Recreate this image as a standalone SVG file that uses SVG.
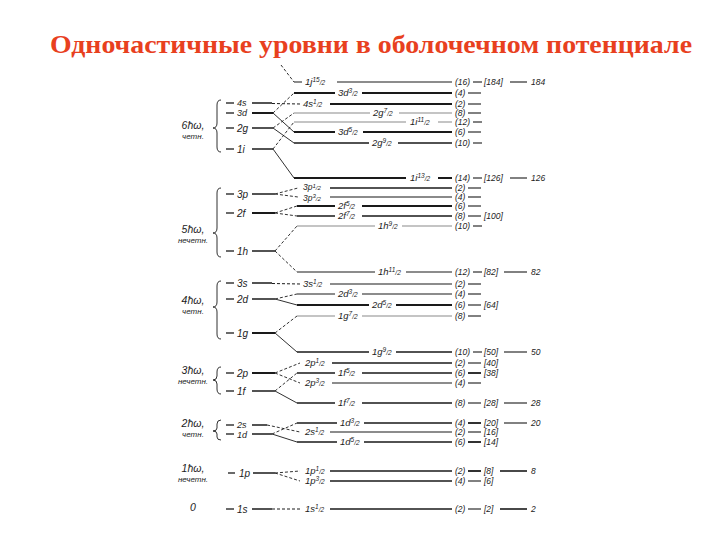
<svg xmlns="http://www.w3.org/2000/svg" width="720" height="540" viewBox="0 0 720 540">
<style>
text{font-family:"Liberation Sans","DejaVu Sans",sans-serif;font-style:italic;fill:#1c1c1c}
.title{font-family:"Liberation Serif","DejaVu Serif",serif;font-style:normal;font-weight:bold;font-size:26px;fill:#e8401e}
.sh{font-size:10.5px}
.pa{font-size:8px}
.nm{font-size:10px}
.ns{font-size:9px}
.lb{font-size:9.5px}
.lbs{font-size:8.5px}
.f{font-size:6.5px}
.fs{font-size:6px}
.r{font-size:8.5px}
.lv{stroke:#1a1a1a;stroke-width:1.5;fill:none}
.lt{stroke:#8a8a8a;stroke-width:1.1;fill:none}
.dl{stroke:#1a1a1a;stroke-width:1;fill:none;stroke-dasharray:3 2}
.arm{stroke:#1a1a1a;stroke-width:0.9;fill:none}
.armd{stroke:#1a1a1a;stroke-width:0.9;fill:none;stroke-dasharray:3 2}
.br{stroke:#1a1a1a;stroke-width:0.9;fill:none}
.tk{stroke:#1a1a1a;stroke-width:1.3}
.rd{stroke:#1a1a1a;stroke-width:1.1}
</style>
<text class="title" x="50" y="53" textLength="642" lengthAdjust="spacingAndGlyphs">Одночастичные уровни в оболочечном потенциале</text>

<!-- oscillator shells (left) -->
<g id="shell6">
<path class="br" d="M221,100 Q217,100 217,105 L217,123 Q217,128 213,128 Q217,128 217,133 L217,147 Q217,152 221,152"/>
<text class="sh" x="193" y="129" text-anchor="middle">6ħω,</text>
<text class="pa" x="193" y="139" text-anchor="middle">четн.</text>
<line class="tk" x1="226" y1="103" x2="234" y2="103"/><text class="ns" x="237" y="106">4s</text><line class="lv" x1="252" y1="103" x2="272" y2="103"/>
<line class="tk" x1="226" y1="113" x2="234" y2="113"/><text class="ns" x="237" y="116">3d</text><line class="lv" x1="252" y1="113" x2="273" y2="113" style="stroke-width:2"/>
<line class="tk" x1="226" y1="128" x2="234" y2="128"/><text class="nm" x="237" y="131.5">2g</text><line class="lv" x1="252" y1="128" x2="273" y2="128"/>
<line class="tk" x1="226" y1="149" x2="234" y2="149"/><text class="nm" x="237" y="152.5">1i</text><line class="lv" x1="252" y1="149" x2="273" y2="149"/>
</g>
<g id="shell5">
<path class="br" d="M221,188 Q217,188 217,193 L217,228 Q217,233 213,233 Q217,233 217,238 L217,252 Q217,257 221,257"/>
<text class="sh" x="193" y="233" text-anchor="middle">5ħω,</text>
<text class="pa" x="193" y="243" text-anchor="middle">нечетн.</text>
<line class="tk" x1="226" y1="194" x2="234" y2="194"/><text class="nm" x="237" y="197.5">3p</text><line class="lv" x1="252" y1="194" x2="275" y2="194"/>
<line class="tk" x1="226" y1="213" x2="234" y2="213"/><text class="nm" x="237" y="216.5">2f</text><line class="lv" x1="252" y1="213" x2="275" y2="213" style="stroke-width:2"/>
<line class="tk" x1="226" y1="251" x2="234" y2="251"/><text class="nm" x="237" y="254.5">1h</text><line class="lv" x1="252" y1="251" x2="275" y2="251"/>
</g>
<g id="shell4">
<path class="br" d="M221,281 Q217,281 217,286 L217,302 Q217,307 213,307 Q217,307 217,312 L217,334 Q217,339 221,339"/>
<text class="sh" x="193" y="304" text-anchor="middle">4ħω,</text>
<text class="pa" x="193" y="314" text-anchor="middle">четн.</text>
<line class="tk" x1="226" y1="283" x2="234" y2="283"/><text class="nm" x="237" y="286.5">3s</text><line class="lv" x1="252" y1="283" x2="272" y2="283"/>
<line class="tk" x1="226" y1="299" x2="234" y2="299"/><text class="nm" x="237" y="302.5">2d</text><line class="lv" x1="252" y1="299" x2="275" y2="299"/>
<line class="tk" x1="226" y1="333" x2="234" y2="333"/><text class="nm" x="237" y="336.5">1g</text><line class="lv" x1="252" y1="333" x2="275" y2="333" style="stroke-width:2"/>
</g>
<g id="shell3">
<path class="br" d="M221,367 Q217,367 217,372 L217,376 Q217,380 213,380 Q217,380 217,384 L217,389 Q217,394 221,394"/>
<text class="sh" x="193" y="374" text-anchor="middle">3ħω,</text>
<text class="pa" x="193" y="384" text-anchor="middle">нечетн.</text>
<line class="tk" x1="226" y1="373" x2="234" y2="373"/><text class="nm" x="237" y="376.5">2p</text><line class="lv" x1="252" y1="373" x2="275" y2="373" style="stroke-width:2"/>
<line class="tk" x1="226" y1="391" x2="234" y2="391"/><text class="nm" x="237" y="394.5">1f</text><line class="lv" x1="252" y1="391" x2="275" y2="391"/>
</g>
<g id="shell2">
<path class="br" d="M221,420 Q217,420 217,424 L217,428 Q217,431 213,431 Q217,431 217,434 L217,437 Q217,440 221,440"/>
<text class="sh" x="193" y="427" text-anchor="middle">2ħω,</text>
<text class="pa" x="193" y="437" text-anchor="middle">четн.</text>
<line class="tk" x1="226" y1="425" x2="234" y2="425"/><text class="ns" x="237" y="427.5">2s</text><line class="lv" x1="252" y1="425" x2="267" y2="425"/>
<line class="tk" x1="226" y1="434" x2="234" y2="434"/><text class="ns" x="237" y="437.5">1d</text><line class="lv" x1="252" y1="434" x2="272" y2="434"/>
</g>
<g id="shell1">
<text class="sh" x="193" y="472" text-anchor="middle">1ħω,</text>
<text class="pa" x="193" y="482" text-anchor="middle">нечетн.</text>
<line class="tk" x1="228" y1="473" x2="235" y2="473"/><text class="nm" x="239" y="476.5">1p</text><line class="lv" x1="253" y1="473" x2="275" y2="473"/>
</g>
<g id="shell0">
<text class="sh" x="193" y="511" text-anchor="middle">0</text>
<line class="tk" x1="226" y1="509" x2="234" y2="509"/><text class="nm" x="237" y="512.5">1s</text><line class="lv" x1="252" y1="509" x2="272" y2="509"/>
</g>

<!-- spin-orbit splitting connectors -->
<g id="connectors">
<path class="armd" d="M281,65 L294,82"/>
<path class="dl" d="M272,103.5 L300,104"/>
<path class="armd" d="M273,113 L294,93"/><path class="arm" d="M273,113 L294,132"/>
<path class="armd" d="M273,128 L294,113"/><path class="arm" d="M273,128 L294,143"/>
<path class="armd" d="M273,149 L294,122"/><path class="arm" d="M273,149 L294,178"/>
<path class="armd" d="M275,194 L298,188"/><path class="armd" d="M275,194 L298,197"/>
<path class="armd" d="M275,213 L297,206"/><path class="armd" d="M275,213 L297,216"/>
<path class="armd" d="M275,251 L297,226"/><path class="armd" d="M275,251 L297,272"/>
<path class="dl" d="M272,283.5 L300,284"/>
<path class="armd" d="M275,299 L297,294"/><path class="arm" d="M275,299 L297,305"/>
<path class="armd" d="M275,333 L297,316"/><path class="arm" d="M275,333 L297,352"/>
<path class="armd" d="M275,373 L300,363"/><path class="armd" d="M275,373 L300,383"/>
<path class="armd" d="M275,391 L297,373"/><path class="arm" d="M275,391 L297,403"/>
<path class="armd" d="M267,425 L300,432"/>
<path class="armd" d="M272,434 L297,423"/><path class="arm" d="M272,434 L297,442"/>
<path class="armd" d="M275,473 L300,471"/><path class="armd" d="M275,473 L300,481"/>
<path class="dl" d="M272,509 L300,509"/>
</g>

<!-- single-particle levels -->
<g id="lv-1j15">
<path class="lv" style="stroke-width:1.1" d="M294,82H302M337,82H452"/><text class="lb" x="305" y="85">1j<tspan class="f" dy="-3">15</tspan><tspan class="f" dy="3">/2</tspan></text>
<text class="r" x="455" y="85">(16)</text><line class="rd" x1="473" y1="82" x2="482" y2="82"/><text class="r" x="484" y="85">[184]</text><line class="rd" x1="510" y1="82" x2="527" y2="82"/><text class="r" x="531" y="85">184</text>
</g>
<g id="lv-3d3">
<path class="lv" style="stroke-width:1.9" d="M294,93H335M362,93H452"/><text class="lb" x="338" y="96">3d<tspan class="f" dy="-3">3</tspan><tspan class="f" dy="3">/2</tspan></text>
<text class="r" x="455" y="96">(4)</text><line class="rd" x1="468" y1="93" x2="481" y2="93"/>
</g>
<g id="lv-4s1">
<path class="lv" style="stroke-width:1.9" d="M330,104H452"/><text class="lb" x="303" y="107">4s<tspan class="f" dy="-3">1</tspan><tspan class="f" dy="3">/2</tspan></text>
<text class="r" x="455" y="107">(2)</text><line class="rd" x1="468" y1="104" x2="481" y2="104"/>
</g>
<g id="lv-2g7">
<path class="lt" d="M294,113H370M399,113H452"/><text class="lb" x="373" y="116">2g<tspan class="f" dy="-3">7</tspan><tspan class="f" dy="3">/2</tspan></text>
<text class="r" x="455" y="116">(8)</text><line class="rd" x1="468" y1="113" x2="481" y2="113"/>
</g>
<g id="lv-1i11">
<path class="lt" d="M294,122H406M438,122H452"/><text class="lb" x="410" y="125">1i<tspan class="f" dy="-3">11</tspan><tspan class="f" dy="3">/2</tspan></text>
<text class="r" x="455" y="125">(12)</text><line class="rd" x1="473" y1="122" x2="482" y2="122"/>
</g>
<g id="lv-3d5">
<path class="lv" style="stroke-width:1.9" d="M294,132H335M363,132H452"/><text class="lb" x="338" y="135">3d<tspan class="f" dy="-3">5</tspan><tspan class="f" dy="3">/2</tspan></text>
<text class="r" x="455" y="135">(6)</text><line class="rd" x1="468" y1="132" x2="481" y2="132"/>
</g>
<g id="lv-2g9">
<path class="lv" style="stroke-width:1.7" d="M294,143H369M398,143H452"/><text class="lb" x="372" y="146">2g<tspan class="f" dy="-3">9</tspan><tspan class="f" dy="3">/2</tspan></text>
<text class="r" x="455" y="146">(10)</text><line class="rd" x1="473" y1="143" x2="482" y2="143"/>
</g>
<g id="lv-1i13">
<path class="lv" style="stroke-width:1.9" d="M294,178H406M438,178H452"/><text class="lb" x="410" y="181">1i<tspan class="f" dy="-3">13</tspan><tspan class="f" dy="3">/2</tspan></text>
<text class="r" x="455" y="181">(14)</text><line class="rd" x1="473" y1="178" x2="482" y2="178"/><text class="r" x="484" y="181">[126]</text><line class="rd" x1="510" y1="178" x2="527" y2="178"/><text class="r" x="531" y="181">126</text>
</g>
<g id="lv-3p1">
<path class="lv" style="stroke-width:1.7" d="M330,188H452"/><text class="lbs" x="303" y="190">3p<tspan class="fs" dy="-2.5">1</tspan><tspan class="fs" dy="2.5">/2</tspan></text>
<text class="r" x="455" y="191">(2)</text><line class="rd" x1="468" y1="188" x2="481" y2="188"/>
</g>
<g id="lv-3p3">
<path class="lt" style="stroke-width:1.8" d="M330,197H452"/><text class="lbs" x="303" y="200.5">3p<tspan class="fs" dy="-2.5">3</tspan><tspan class="fs" dy="2.5">/2</tspan></text>
<text class="r" x="455" y="200">(4)</text><line class="rd" x1="468" y1="197" x2="481" y2="197"/>
</g>
<g id="lv-2f5">
<path class="lv" style="stroke-width:1.9" d="M297,206H335M362,206H452"/><text class="lb" x="338" y="209">2f<tspan class="f" dy="-3">5</tspan><tspan class="f" dy="3">/2</tspan></text>
<text class="r" x="455" y="209">(6)</text><line class="rd" x1="468" y1="206" x2="481" y2="206"/>
</g>
<g id="lv-2f7">
<path class="lv" style="stroke-width:1.3" d="M297,216H335M362,216H452"/><text class="lb" x="338" y="219">2f<tspan class="f" dy="-3">7</tspan><tspan class="f" dy="3">/2</tspan></text>
<text class="r" x="455" y="219">(8)</text><line class="rd" x1="468" y1="216" x2="481" y2="216"/><text class="r" x="484" y="219">[100]</text>
</g>
<g id="lv-1h9">
<path class="lt" d="M297,226H375M402,226H452"/><text class="lb" x="378" y="229">1h<tspan class="f" dy="-3">9</tspan><tspan class="f" dy="3">/2</tspan></text>
<text class="r" x="455" y="229">(10)</text><line class="rd" x1="473" y1="226" x2="482" y2="226"/>
</g>
<g id="lv-1h11">
<path class="lv" style="stroke-width:1.1" d="M297,272H375M406,272H452"/><text class="lb" x="378" y="275">1h<tspan class="f" dy="-3">11</tspan><tspan class="f" dy="3">/2</tspan></text>
<text class="r" x="455" y="275">(12)</text><line class="rd" x1="473" y1="272" x2="482" y2="272"/><text class="r" x="484" y="275">[82]</text><line class="rd" x1="504" y1="272" x2="527" y2="272"/><text class="r" x="531" y="275">82</text>
</g>
<g id="lv-3s1">
<path class="lv" style="stroke-width:1.2" d="M330,284H452"/><text class="lb" x="303" y="287">3s<tspan class="f" dy="-3">1</tspan><tspan class="f" dy="3">/2</tspan></text>
<text class="r" x="455" y="287">(2)</text><line class="rd" x1="468" y1="284" x2="481" y2="284"/>
</g>
<g id="lv-2d3">
<path class="lv" style="stroke-width:1.2" d="M297,294H335M362,294H452"/><text class="lb" x="338" y="297">2d<tspan class="f" dy="-3">3</tspan><tspan class="f" dy="3">/2</tspan></text>
<text class="r" x="455" y="297">(4)</text><line class="rd" x1="468" y1="294" x2="481" y2="294"/>
</g>
<g id="lv-2d5">
<path class="lv" style="stroke-width:1.9" d="M297,305H369M396,305H452"/><text class="lb" x="372" y="308">2d<tspan class="f" dy="-3">5</tspan><tspan class="f" dy="3">/2</tspan></text>
<text class="r" x="455" y="308">(6)</text><line class="rd" x1="468" y1="305" x2="481" y2="305"/><text class="r" x="484" y="308">[64]</text>
</g>
<g id="lv-1g7">
<path class="lt" d="M297,316H335M362,316H452"/><text class="lb" x="338" y="319">1g<tspan class="f" dy="-3">7</tspan><tspan class="f" dy="3">/2</tspan></text>
<text class="r" x="455" y="319">(8)</text><line class="rd" x1="468" y1="316" x2="481" y2="316"/>
</g>
<g id="lv-1g9">
<path class="lv" style="stroke-width:1.6" d="M297,352H369M396,352H452"/><text class="lb" x="372" y="355">1g<tspan class="f" dy="-3">9</tspan><tspan class="f" dy="3">/2</tspan></text>
<text class="r" x="455" y="355">(10)</text><line class="rd" x1="473" y1="352" x2="482" y2="352"/><text class="r" x="484" y="355">[50]</text><line class="rd" x1="504" y1="352" x2="527" y2="352"/><text class="r" x="531" y="355">50</text>
</g>
<g id="lv-2p1">
<path class="lv" style="stroke-width:1.3" d="M332,363H452"/><text class="lb" x="305" y="366">2p<tspan class="f" dy="-3">1</tspan><tspan class="f" dy="3">/2</tspan></text>
<text class="r" x="455" y="366">(2)</text><line class="rd" x1="468" y1="363" x2="481" y2="363"/><text class="r" x="484" y="366">[40]</text>
</g>
<g id="lv-1f5">
<path class="lv" style="stroke-width:1.3" d="M297,373H335M362,373H452"/><text class="lb" x="338" y="376">1f<tspan class="f" dy="-3">5</tspan><tspan class="f" dy="3">/2</tspan></text>
<text class="r" x="455" y="376">(6)</text><line class="rd" x1="468" y1="373" x2="481" y2="373" style="stroke-width:1.8"/><text class="r" x="484" y="376">[38]</text>
</g>
<g id="lv-2p3">
<path class="lv" style="stroke-width:1.2" d="M332,383H452"/><text class="lb" x="305" y="386">2p<tspan class="f" dy="-3">3</tspan><tspan class="f" dy="3">/2</tspan></text>
<text class="r" x="455" y="386">(4)</text><line class="rd" x1="468" y1="383" x2="481" y2="383"/>
</g>
<g id="lv-1f7">
<path class="lv" style="stroke-width:1.5" d="M297,403H335M362,403H452"/><text class="lb" x="338" y="406">1f<tspan class="f" dy="-3">7</tspan><tspan class="f" dy="3">/2</tspan></text>
<text class="r" x="455" y="406">(8)</text><line class="rd" x1="468" y1="403" x2="481" y2="403"/><text class="r" x="484" y="406">[28]</text><line class="rd" x1="504" y1="403" x2="527" y2="403"/><text class="r" x="531" y="406">28</text>
</g>
<g id="lv-1d3">
<path class="lv" style="stroke-width:1.4" d="M297,423H337M364,423H452"/><text class="lb" x="340" y="426">1d<tspan class="f" dy="-3">3</tspan><tspan class="f" dy="3">/2</tspan></text>
<text class="r" x="455" y="426">(4)</text><line class="rd" x1="468" y1="423" x2="481" y2="423" style="stroke-width:1.8"/><text class="r" x="484" y="426">[20]</text><line class="rd" x1="504" y1="423" x2="527" y2="423"/><text class="r" x="531" y="426">20</text>
</g>
<g id="lv-2s1">
<path class="lv" style="stroke-width:1.2" d="M330,432H452"/><text class="lb" x="305" y="435">2s<tspan class="f" dy="-3">1</tspan><tspan class="f" dy="3">/2</tspan></text>
<text class="r" x="455" y="435">(2)</text><line class="rd" x1="468" y1="432" x2="481" y2="432"/><text class="r" x="484" y="435">[16]</text>
</g>
<g id="lv-1d5">
<path class="lv" style="stroke-width:1.7" d="M297,442H337M364,442H452"/><text class="lb" x="340" y="445">1d<tspan class="f" dy="-3">5</tspan><tspan class="f" dy="3">/2</tspan></text>
<text class="r" x="455" y="445">(6)</text><line class="rd" x1="468" y1="442" x2="481" y2="442" style="stroke-width:1.8"/><text class="r" x="484" y="445">[14]</text>
</g>
<g id="lv-1p1">
<path class="lv" style="stroke-width:1.6" d="M330,471H452"/><text class="lb" x="305" y="474">1p<tspan class="f" dy="-3">1</tspan><tspan class="f" dy="3">/2</tspan></text>
<text class="r" x="455" y="474">(2)</text><line class="rd" x1="468" y1="471" x2="481" y2="471" style="stroke-width:1.8"/><text class="r" x="484" y="474">[8]</text><line class="rd" x1="500" y1="471" x2="527" y2="471" style="stroke-width:1.6"/><text class="r" x="531" y="474">8</text>
</g>
<g id="lv-1p3">
<path class="lv" style="stroke-width:1.3" d="M330,481H452"/><text class="lb" x="305" y="484">1p<tspan class="f" dy="-3">3</tspan><tspan class="f" dy="3">/2</tspan></text>
<text class="r" x="455" y="484">(4)</text><line class="rd" x1="468" y1="481" x2="481" y2="481"/><text class="r" x="484" y="484">[6]</text>
</g>
<g id="lv-1s1">
<path class="lv" style="stroke-width:1.6" d="M330,509H452"/><text class="lb" x="305" y="512">1s<tspan class="f" dy="-3">1</tspan><tspan class="f" dy="3">/2</tspan></text>
<text class="r" x="455" y="512">(2)</text><line class="rd" x1="468" y1="509" x2="481" y2="509"/><text class="r" x="484" y="512">[2]</text><line class="rd" x1="500" y1="509" x2="527" y2="509" style="stroke-width:1.6"/><text class="r" x="531" y="512">2</text>
</g>
</svg>
